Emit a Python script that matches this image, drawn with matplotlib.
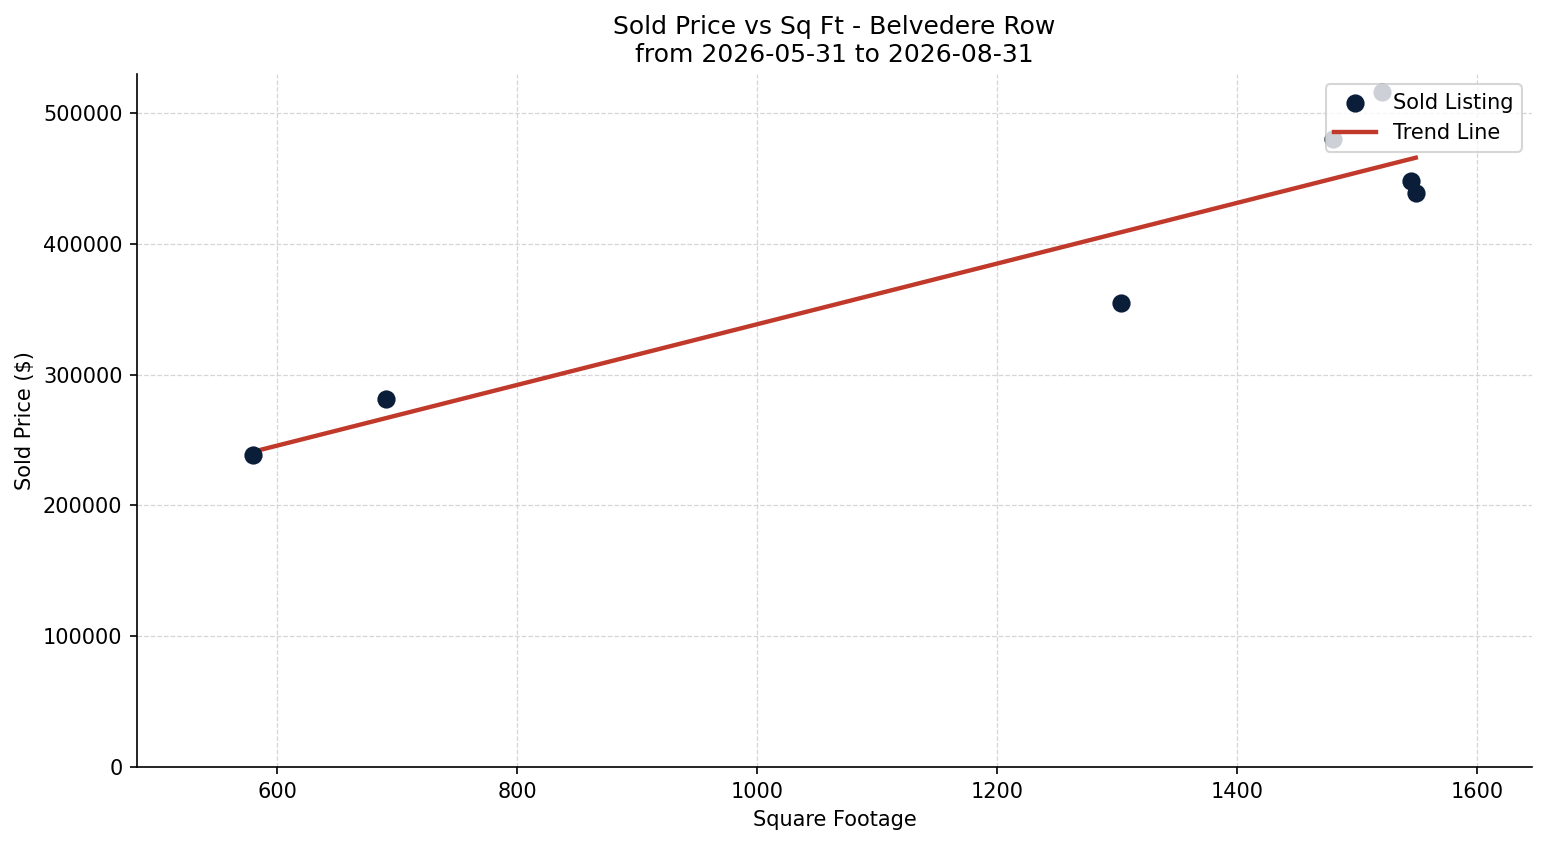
import numpy as np
import matplotlib
matplotlib.use("Agg")
import matplotlib.pyplot as plt

# sold listings
sqft = [580, 691, 1303, 1480, 1521, 1545, 1549]
price = [238500, 281300, 354700, 480100, 516100, 448000, 438800]

title = "Sold Price vs Sq Ft - Belvedere Row\nfrom 2026-05-31 to 2026-08-31"

fig, ax = plt.subplots(figsize=(1547 / 150, 845 / 150), dpi=150)
fig.subplots_adjust(left=0.0886, right=0.9903, top=0.9124, bottom=0.0923)

ax.scatter(sqft, price, s=60, color="#0a1e3a", label="Sold Listing", zorder=3)

coef = np.polyfit(sqft, price, 1)
xs = np.array([min(sqft), max(sqft)])
ax.plot(xs, np.polyval(coef, xs), color="#c0392b", linewidth=2.1, label="Trend Line", zorder=2)

ax.margins(x=0.1)
ax.set_ylim(bottom=0)
ax.set_title(title, fontsize=12)
ax.set_xlabel("Square Footage")
ax.set_ylabel("Sold Price ($)")
ax.grid(True, linestyle="--", linewidth=0.6, color="#cccccc", alpha=0.8)
ax.spines["top"].set_visible(False)
ax.spines["right"].set_visible(False)
ax.ticklabel_format(axis="y", style="plain")
ax.legend(loc="upper right")

fig.savefig("out.png", dpi=150)
